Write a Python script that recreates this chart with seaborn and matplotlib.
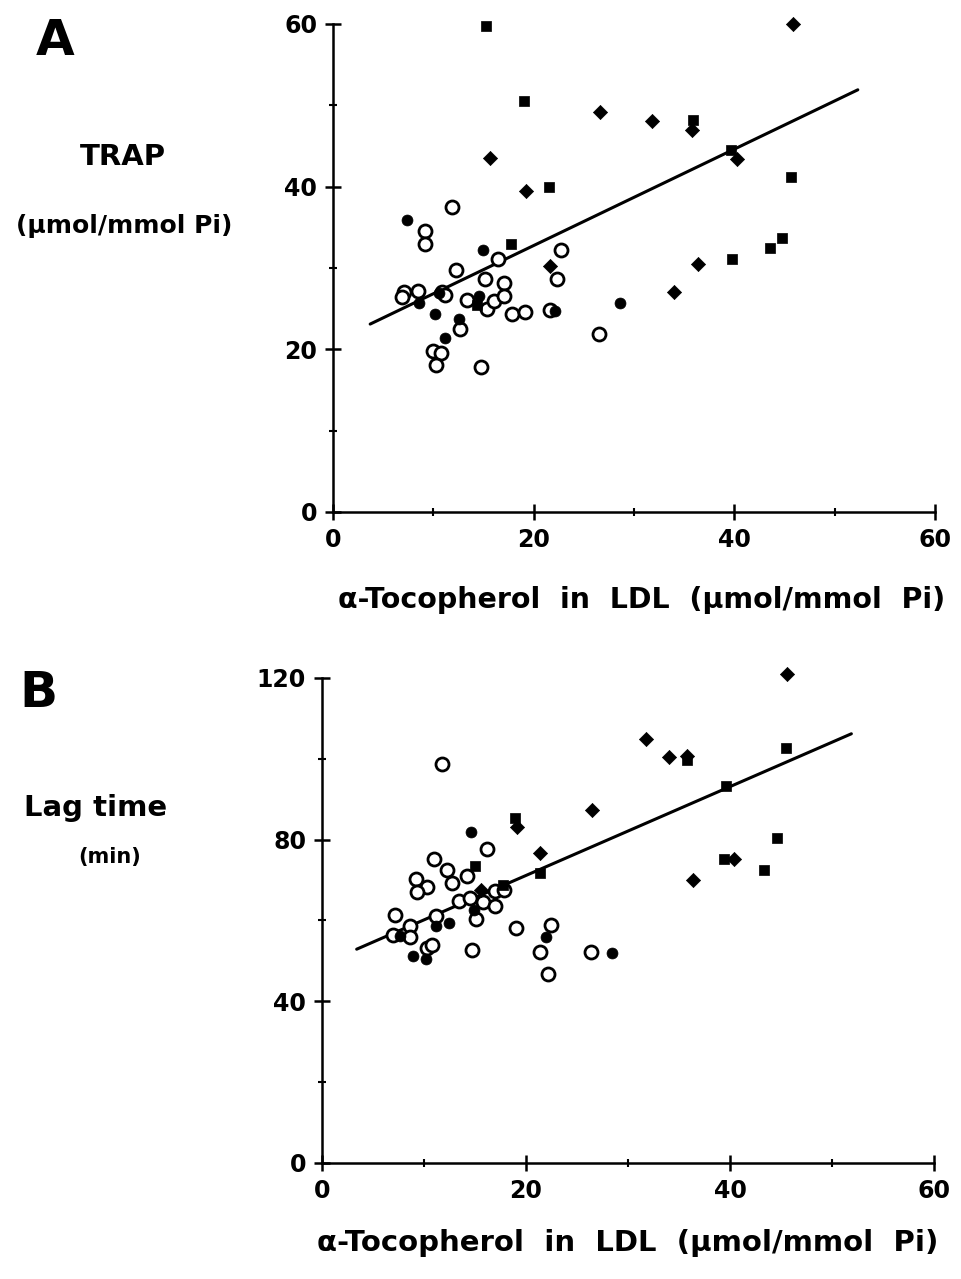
import matplotlib
matplotlib.use("Agg")
import matplotlib.pyplot as plt
import seaborn as sns
from matplotlib.ticker import MultipleLocator

# ---------------- data ----------------
# Panel A: TRAP vs alpha-tocopherol in LDL
a_open_x = [11.9, 9.2, 9.2, 16.4, 22.7, 22.3, 12.3, 15.1, 17.0, 7.1, 6.9, 8.5, 10.9, 11.2,
            13.4, 15.3, 16.0, 17.0, 17.8, 19.1, 21.6, 26.5, 12.7, 10.0, 10.8, 10.3, 14.7]
a_open_y = [37.5, 34.5, 33.0, 31.1, 32.2, 28.7, 29.8, 28.7, 28.2, 27.1, 26.4, 27.2, 27.0, 26.7,
            26.0, 25.0, 25.9, 26.5, 24.4, 24.6, 24.8, 21.9, 22.5, 19.8, 19.6, 18.1, 17.8]
a_fill_x = [7.4, 14.9, 8.6, 10.6, 14.5, 22.1, 10.2, 12.6, 11.2, 28.6]
a_fill_y = [35.9, 32.2, 25.7, 26.9, 26.5, 24.7, 24.3, 23.7, 21.4, 25.7]
a_sq_x = [15.2, 19.0, 21.5, 17.7, 14.3, 35.9, 39.7, 45.6, 44.7, 43.5, 39.8]
a_sq_y = [59.7, 50.5, 39.9, 33.0, 25.5, 48.2, 44.5, 41.2, 33.7, 32.5, 31.1]
a_dia_x = [45.8, 15.6, 19.2, 26.6, 31.8, 35.8, 40.3, 21.6, 36.4, 34.0]
a_dia_y = [60.0, 43.5, 39.5, 49.2, 48.1, 47.0, 43.4, 30.3, 30.5, 27.0]
a_line_x = [3.7, 52.3]
a_line_y = [23.1, 51.9]

# Panel B: lag time vs alpha-tocopherol in LDL
b_open_x = [11.8, 16.2, 11.0, 12.3, 14.2, 9.2, 10.3, 9.3, 12.7, 17.0, 17.8, 13.4, 14.5, 15.8,
            17.0, 15.1, 7.2, 8.6, 7.0, 8.6, 11.2, 10.3, 10.8, 14.7, 19.0, 22.5, 21.4, 22.2, 26.4]
b_open_y = [98.8, 77.7, 75.2, 72.4, 71.0, 70.3, 68.2, 67.0, 69.4, 67.2, 67.6, 64.9, 65.5, 64.7,
            63.5, 60.3, 61.4, 58.7, 56.4, 56.0, 61.0, 53.1, 54.0, 52.7, 58.2, 58.9, 52.3, 46.8, 52.2]
b_fill_x = [14.6, 14.9, 7.6, 11.2, 12.5, 8.9, 10.2, 22.0, 28.4]
b_fill_y = [81.9, 62.5, 56.2, 58.7, 59.5, 51.1, 50.4, 55.8, 52.0]
b_sq_x = [18.9, 15.0, 17.7, 21.4, 35.8, 45.5, 39.6, 44.6, 39.4, 43.3]
b_sq_y = [85.3, 73.4, 68.7, 71.7, 99.8, 102.6, 93.4, 80.4, 75.3, 72.4]
b_dia_x = [19.1, 26.5, 21.4, 15.6, 45.6, 31.8, 34.0, 35.8, 40.4, 36.4]
b_dia_y = [83.1, 87.4, 76.7, 67.6, 121.0, 104.9, 100.5, 100.7, 75.3, 69.9]
b_line_x = [3.4, 51.9]
b_line_y = [52.9, 106.2]

x_ticks = [0, 20, 40, 60]
a_y_ticks = [0, 20, 40, 60]
b_y_ticks = [0, 40, 80, 120]
x_label = "\u03b1-Tocopherol  in  LDL  (\u00b5mol/mmol  Pi)"

# ---------------- style ----------------
sns.set_style("ticks")
plt.rcParams["font.family"] = ["DejaVu Sans"]
plt.rcParams["font.weight"] = "bold"
plt.rcParams["text.color"] = "black"

fig = plt.figure(figsize=(9.62, 12.79), dpi=100)
axA = fig.add_axes([0.3462, 0.5997, 0.6258, 0.3816])
axB = fig.add_axes([0.3347, 0.0907, 0.6362, 0.3792])


def draw(ax, ox, oy, fx, fy, sx, sy, dx, dy, lx, ly):
    sns.lineplot(x=lx, y=ly, ax=ax, color="black", linewidth=2.2, zorder=2)
    sns.scatterplot(x=ox, y=oy, ax=ax, marker="o", s=88, facecolor="white",
                    edgecolor="black", linewidth=2.0, zorder=3)
    sns.scatterplot(x=fx, y=fy, ax=ax, marker="o", s=62, color="black",
                    edgecolor="black", linewidth=0.5, zorder=4)
    sns.scatterplot(x=sx, y=sy, ax=ax, marker="s", s=62, color="black",
                    edgecolor="black", linewidth=0.5, zorder=4)
    sns.scatterplot(x=dx, y=dy, ax=ax, marker="D", s=52, color="black",
                    edgecolor="black", linewidth=0.5, zorder=4)


draw(axA, a_open_x, a_open_y, a_fill_x, a_fill_y, a_sq_x, a_sq_y,
     a_dia_x, a_dia_y, a_line_x, a_line_y)
draw(axB, b_open_x, b_open_y, b_fill_x, b_fill_y, b_sq_x, b_sq_y,
     b_dia_x, b_dia_y, b_line_x, b_line_y)

for ax, yt, ymax, yminor in [(axA, a_y_ticks, 60, 10), (axB, b_y_ticks, 120, 20)]:
    ax.set_xlim(0, 60)
    ax.set_ylim(0, ymax)
    ax.set_xticks(x_ticks)
    ax.set_yticks(yt)
    ax.xaxis.set_minor_locator(MultipleLocator(10))
    ax.yaxis.set_minor_locator(MultipleLocator(yminor))
    ax.tick_params(which="major", direction="inout", length=11, width=1.8,
                   labelsize=17, pad=6, color="black", labelcolor="black")
    ax.tick_params(which="minor", direction="inout", length=6, width=1.5, color="black")
    for lab in ax.get_xticklabels() + ax.get_yticklabels():
        lab.set_fontweight("bold")
    for s in ["top", "right"]:
        ax.spines[s].set_visible(False)
    for s in ["left", "bottom"]:
        ax.spines[s].set_linewidth(1.8)
        ax.spines[s].set_color("black")
    ax.set_xlabel("")
    ax.set_ylabel("")
    for coll in ax.collections:
        coll.set_clip_on(False)

# panel labels and axis titles
kw = dict(fontweight="bold", ha="center", va="center", color="black")
fig.text(0.057, 0.968, "A", fontsize=36, **kw)
fig.text(0.040, 0.458, "B", fontsize=36, **kw)
fig.text(0.128, 0.877, "TRAP", fontsize=21, **kw)
fig.text(0.129, 0.823, "(\u00b5mol/mmol Pi)", fontsize=18, **kw)
fig.text(0.099, 0.368, "Lag time", fontsize=21, **kw)
fig.text(0.114, 0.330, "(min)", fontsize=15, **kw)
fig.text(0.667, 0.531, x_label, fontsize=20.5, **kw)
fig.text(0.652, 0.028, x_label, fontsize=21, **kw)

fig.savefig("out.png", dpi=100, facecolor="white")
